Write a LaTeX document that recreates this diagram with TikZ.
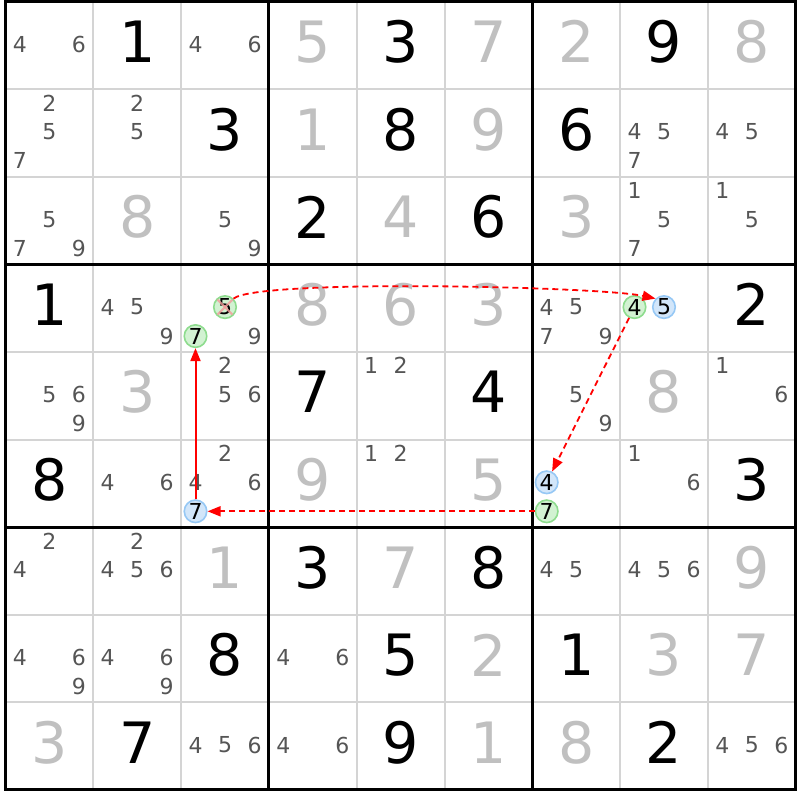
\documentclass[tikz,border=0pt]{standalone}
\usepackage{fontspec}
\setmainfont{DejaVu Sans}
\usetikzlibrary{arrows.meta,calc}
\definecolor{solvedgray}{HTML}{C0C0C0}
\definecolor{candgray}{HTML}{555555}
\definecolor{thingrid}{HTML}{D4D4D4}
\definecolor{cgfill}{HTML}{D2F2D2}
\definecolor{cgdraw}{HTML}{8EDC8E}
\definecolor{cbfill}{HTML}{D2E6FA}
\definecolor{cbdraw}{HTML}{96C8F5}
\definecolor{linkred}{HTML}{FF0000}
\definecolor{crosspink}{HTML}{F29A9A}
\newcommand\xo{5.5}
\newcommand\yo{1.5}
\newcommand\cellw{87.8}
\newcommand\cellh{87.6}
\tikzset{
  given/.style={font=\fontsize{57}{57}\selectfont, text=black, inner sep=0pt},
  solved/.style={given, text=solvedgray},
  cand/.style={font=\fontsize{22}{22}\selectfont, text=candgray, inner sep=0pt},
  circg/.style={circle, draw=cgdraw, fill=cgfill, line width=1.6pt, minimum size=22.5pt, inner sep=0pt, font=\fontsize{22}{22}\selectfont, text=black},
  circb/.style={circg, draw=cbdraw, fill=cbfill},
  thinline/.style={draw=thingrid, line width=2pt},
  thickline/.style={draw=black, line width=3pt},
  strong/.style={color=linkred, line width=1.8pt, -{Triangle[length=13pt,width=10pt]}},
  weak/.style={strong, dash pattern=on 6pt off 4pt},
  cross/.style={draw=crosspink, line width=2pt, opacity=0.8}
}
\newcommand\BigD[4]{\node[#1] (g#2#3) at ({\xo+(#3-0.5)*\cellw},{\yo+(#2-0.5)*\cellh-3.5}) {#4};}
\newcommand\Cand[3]{\foreach \d in {#3}{%
  \pgfmathtruncatemacro\sc{mod(\d-1,3)}%
  \pgfmathtruncatemacro\sr{div(\d-1,3)}%
  \node[cand] (k#1#2\d) at ({\xo+(#2-0.5)*\cellw+(\sc-1)*29.5},{\yo+(#1-0.5)*\cellh+(\sr-1)*29-1}) {\d};}}
\newcommand\Circ[4]{%
  \pgfmathtruncatemacro\sc{mod(#3-1,3)}%
  \pgfmathtruncatemacro\sr{div(#3-1,3)}%
  \node[#4] (c#1#2#3) at ({\xo+(#2-0.5)*\cellw+(\sc-1)*29.5},{\yo+(#1-0.5)*\cellh+(\sr-1)*29-1}) {#3};}
\begin{document}
\begin{tikzpicture}[x=1pt,y=-1pt]
\useasboundingbox[fill=white] (0,0) rectangle (800,800);
% thin grid
\foreach \i in {1,2,4,5,7,8}{
  \draw[thinline] ({\xo+\i*\cellw},{\yo}) -- ({\xo+\i*\cellw},{\yo+9*\cellh});
  \draw[thinline] ({\xo},{\yo+\i*\cellh}) -- ({\xo+9*\cellw},{\yo+\i*\cellh});
}
% thick grid
\foreach \i in {3,6}{
  \draw[thickline] ({\xo+\i*\cellw},{\yo}) -- ({\xo+\i*\cellw},{\yo+9*\cellh});
  \draw[thickline] ({\xo},{\yo+\i*\cellh}) -- ({\xo+9*\cellw},{\yo+\i*\cellh});
}
\draw[thickline] (\xo,\yo) rectangle ({\xo+9*\cellw},{\yo+9*\cellh});
% row 1
\Cand{1}{1}{4,6}
\BigD{given}{1}{2}{1}
\Cand{1}{3}{4,6}
\BigD{solved}{1}{4}{5}
\BigD{given}{1}{5}{3}
\BigD{solved}{1}{6}{7}
\BigD{solved}{1}{7}{2}
\BigD{given}{1}{8}{9}
\BigD{solved}{1}{9}{8}
% row 2
\Cand{2}{1}{2,5,7}
\Cand{2}{2}{2,5}
\BigD{given}{2}{3}{3}
\BigD{solved}{2}{4}{1}
\BigD{given}{2}{5}{8}
\BigD{solved}{2}{6}{9}
\BigD{given}{2}{7}{6}
\Cand{2}{8}{4,5,7}
\Cand{2}{9}{4,5}
% row 3
\Cand{3}{1}{5,7,9}
\BigD{solved}{3}{2}{8}
\Cand{3}{3}{5,9}
\BigD{given}{3}{4}{2}
\BigD{solved}{3}{5}{4}
\BigD{given}{3}{6}{6}
\BigD{solved}{3}{7}{3}
\Cand{3}{8}{1,5,7}
\Cand{3}{9}{1,5}
% row 4
\BigD{given}{4}{1}{1}
\Cand{4}{2}{4,5,9}
\Cand{4}{3}{9}
\Circ{4}{3}{5}{circg}
\Circ{4}{3}{7}{circg}
\BigD{solved}{4}{4}{8}
\BigD{solved}{4}{5}{6}
\BigD{solved}{4}{6}{3}
\Cand{4}{7}{4,5,7,9}
\Circ{4}{8}{4}{circg}
\Circ{4}{8}{5}{circb}
\BigD{given}{4}{9}{2}
% row 5
\Cand{5}{1}{5,6,9}
\BigD{solved}{5}{2}{3}
\Cand{5}{3}{2,5,6}
\BigD{given}{5}{4}{7}
\Cand{5}{5}{1,2}
\BigD{given}{5}{6}{4}
\Cand{5}{7}{5,9}
\BigD{solved}{5}{8}{8}
\Cand{5}{9}{1,6}
% row 6
\BigD{given}{6}{1}{8}
\Cand{6}{2}{4,6}
\Cand{6}{3}{2,4,6}
\Circ{6}{3}{7}{circb}
\BigD{solved}{6}{4}{9}
\Cand{6}{5}{1,2}
\BigD{solved}{6}{6}{5}
\Circ{6}{7}{4}{circb}
\Circ{6}{7}{7}{circg}
\Cand{6}{8}{1,6}
\BigD{given}{6}{9}{3}
% row 7
\Cand{7}{1}{2,4}
\Cand{7}{2}{2,4,5,6}
\BigD{solved}{7}{3}{1}
\BigD{given}{7}{4}{3}
\BigD{solved}{7}{5}{7}
\BigD{given}{7}{6}{8}
\Cand{7}{7}{4,5}
\Cand{7}{8}{4,5,6}
\BigD{solved}{7}{9}{9}
% row 8
\Cand{8}{1}{4,6,9}
\Cand{8}{2}{4,6,9}
\BigD{given}{8}{3}{8}
\Cand{8}{4}{4,6}
\BigD{given}{8}{5}{5}
\BigD{solved}{8}{6}{2}
\BigD{given}{8}{7}{1}
\BigD{solved}{8}{8}{3}
\BigD{solved}{8}{9}{7}
% row 9
\BigD{solved}{9}{1}{3}
\BigD{given}{9}{2}{7}
\Cand{9}{3}{4,5,6}
\Cand{9}{4}{4,6}
\BigD{given}{9}{5}{9}
\BigD{solved}{9}{6}{1}
\BigD{solved}{9}{7}{8}
\BigD{given}{9}{8}{2}
\Cand{9}{9}{4,5,6}
% eliminated candidate
\draw[cross] ($(c435)+(-7.5,-7.5)$) -- ($(c435)+(7.5,7.5)$);
\draw[cross] ($(c435)+(7.5,-7.5)$) -- ($(c435)+(-7.5,7.5)$);
% chain links
\draw[strong, line width=2pt] (c637) -- (c437);
\draw[weak] (c677) -- (c637);
\draw[weak] (c435.north east) .. controls +(25,-20) and +(-55,-12) .. (c485.north west);
\draw[weak] (c484) -- (c674);
\end{tikzpicture}
\end{document}
